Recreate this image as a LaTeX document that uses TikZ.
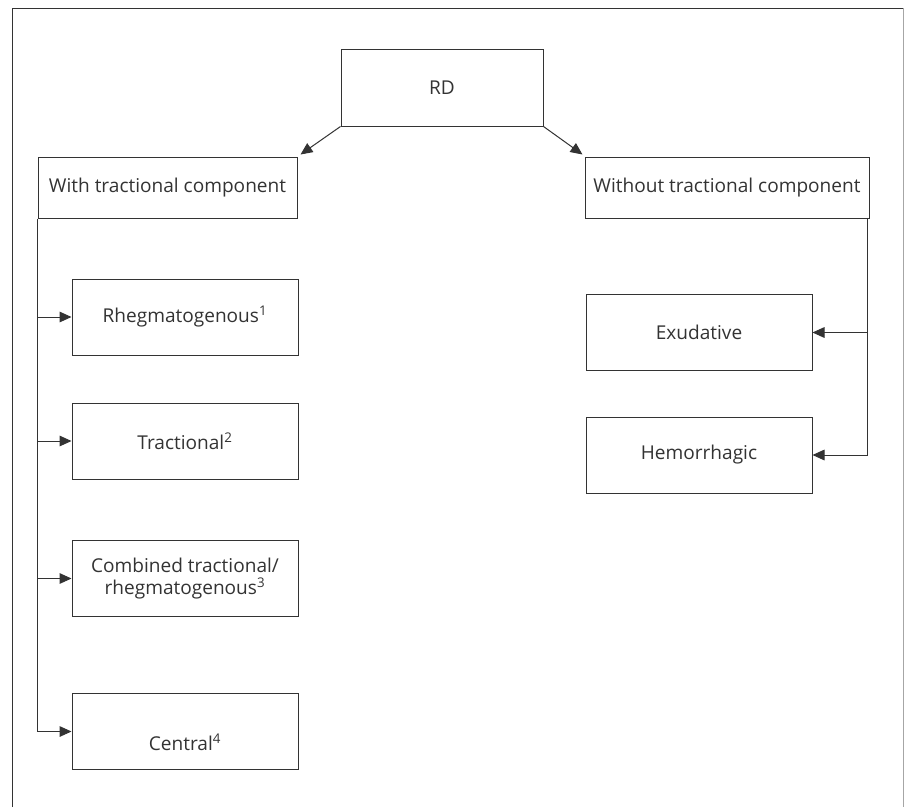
\documentclass[tikz,border=0pt]{standalone}
\usepackage{fontspec}
\setmainfont{Open Sans}
\usepackage{xcolor}
\usepackage{tikz}
\usetikzlibrary{arrows.meta}
\newcommand{\linecolor}{black!80}

\begin{document}
\begin{tikzpicture}[x=0.75pt, y=-0.75pt, line width=0.75pt, color=\linecolor,
	every node/.style={font=\fontsize{14.3}{16.8}\selectfont, text=\linecolor},
	box/.style={draw=\linecolor, inner sep=0pt, minimum width=169.5pt, minimum height=57pt},
	tip/.style={-{Triangle[length=9pt,width=8pt]}}]

	\useasboundingbox (0,0) rectangle (906,807);
	% frame
	\draw (12,807) -- (12,8) -- (903,8);
	\draw[draw=black!35] (903,8) -- (903,807);

	\node[box, minimum width=151.5pt, minimum height=57.75pt] (rd) at (442,87.5) {RD};
	\node[box, minimum width=194.25pt, minimum height=45.75pt] (with) at (167.5,187.5)
		{With tractional component};
	\node[box, minimum width=213pt, minimum height=45.75pt] (without) at (727,187.5)
		{Without tractional component};

	\draw[tip] (rd.south west) -- ([shift={(3,-2)}]with.north east);
	\draw[tip] (rd.south east) -- ([shift={(-2,-2)}]without.north west);

	% with tractional component
	\node[box] (rheg) at (185,317) {Rhegmatogenous\textsuperscript{1}};
	\node[box] (trac) at (185,441) {Tractional\textsuperscript{2}};
	\node[box, align=center] (comb) at (185,578.5)
		{Combined tractional/\\rhegmatogenous\textsuperscript{3}};
	\node[box] (central) at (185,731.5) {};
	\node at ([yshift=-8pt]central.center) {Central\textsuperscript{4}};

	\draw[tip] (with.south west) |- (central.west);
	\foreach \n in {rheg,trac,comb}
		\draw[tip] (with.south west |- \n.west) -- (\n.west);

	% without tractional component
	\node[box] (exud) at (699,332.5) {Exudative};
	\node[box] (hemo) at (699,455) {Hemorrhagic};

	\coordinate (rtrunk) at ([xshift=-1.5pt]without.south east);
	\draw[tip] (rtrunk) |- (hemo.east);
	\draw[tip] (rtrunk |- exud.east) -- (exud.east);

\end{tikzpicture}
\end{document}
